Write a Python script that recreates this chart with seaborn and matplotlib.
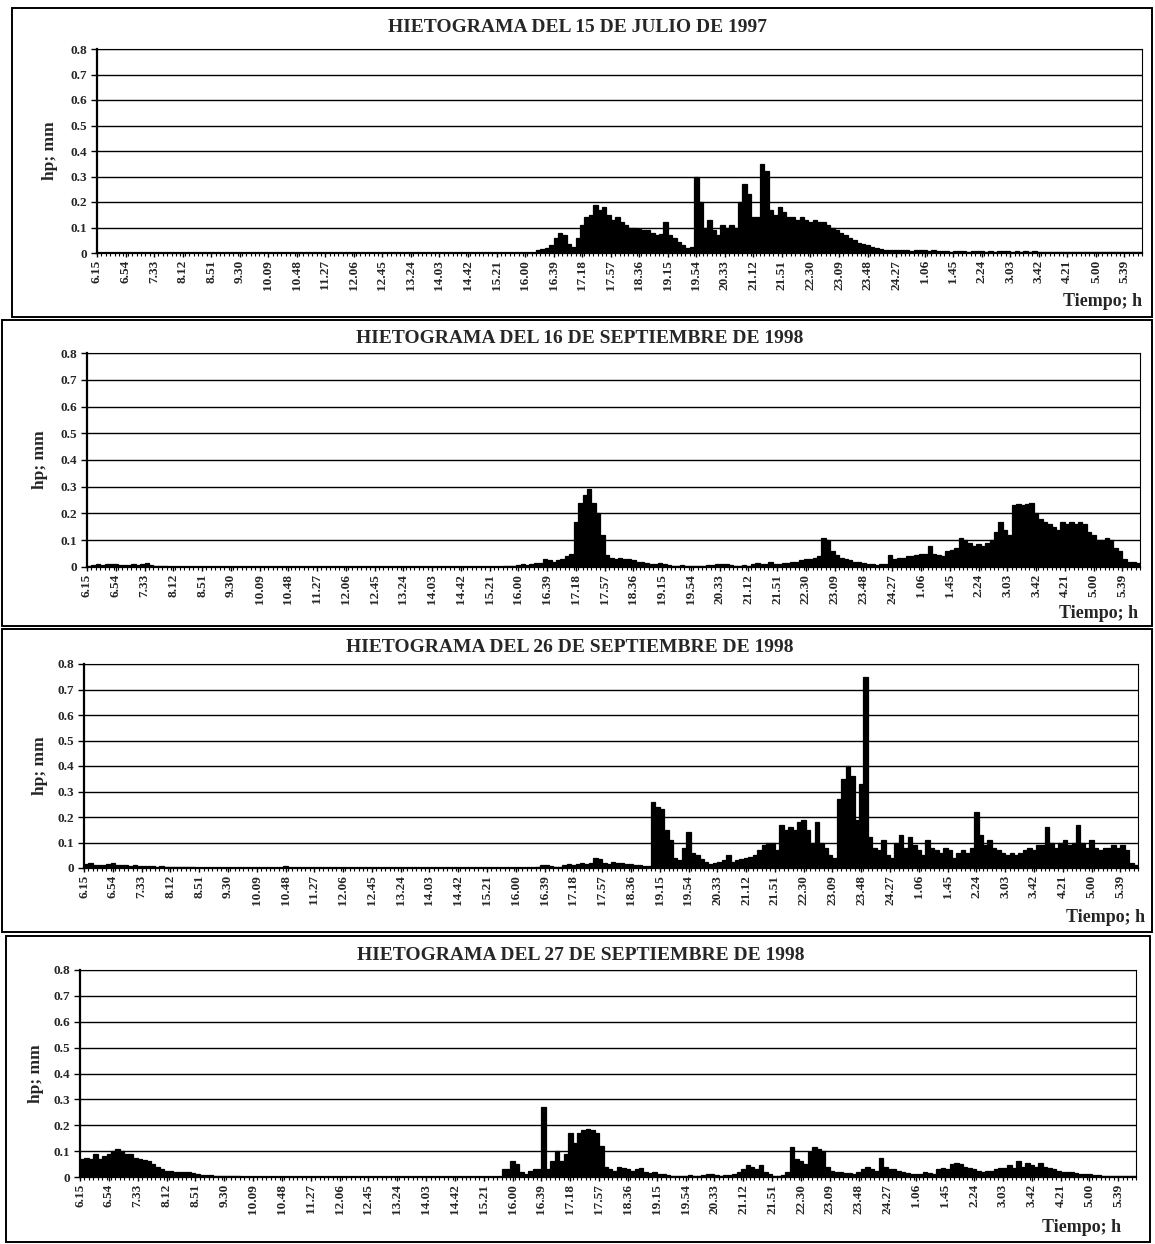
import numpy as np
import pandas as pd
import matplotlib
matplotlib.use("Agg")
import matplotlib.pyplot as plt
import seaborn as sns
from matplotlib.patches import Rectangle

# ---------------- data (hp in mm, 6-minute intervals starting 6:15) ----------------
tick_labels = ['6.15', '6.54', '7.33', '8.12', '8.51', '9.30', '10.09', '10.48', '11.27',
               '12.06', '12.45', '13.24', '14.03', '14.42', '15.21', '16.00', '16.39',
               '17.18', '17.57', '18.36', '19.15', '19.54', '20.33', '21.12', '21.51',
               '22.30', '23.09', '23.48', '24.27', '1.06', '1.45', '2.24', '3.03', '3.42',
               '4.21', '5.00', '5.39']
y_tick_values = [0, 0.1, 0.2, 0.3, 0.4, 0.5, 0.6, 0.7, 0.8]
y_tick_labels = ['0', '0.1', '0.2', '0.3', '0.4', '0.5', '0.6', '0.7', '0.8']

titles = ['HIETOGRAMA DEL 15 DE JULIO DE 1997',
          'HIETOGRAMA DEL 16 DE SEPTIEMBRE DE 1998',
          'HIETOGRAMA DEL 26 DE SEPTIEMBRE DE 1998',
          'HIETOGRAMA DEL 27 DE SEPTIEMBRE DE 1998']

hp_15jul1997 = [
    0, 0, 0, 0, 0, 0, 0, 0, 0, 0, 0, 0, 0, 0, 0, 0, 0, 0, 0, 0,
    0, 0, 0, 0, 0, 0, 0, 0, 0, 0, 0, 0, 0, 0, 0, 0, 0, 0, 0, 0,
    0, 0, 0, 0, 0, 0, 0, 0, 0, 0, 0, 0, 0, 0, 0, 0, 0, 0, 0, 0,
    0, 0, 0, 0, 0, 0, 0, 0, 0, 0, 0, 0, 0, 0, 0, 0, 0, 0, 0, 0,
    0, 0, 0, 0, 0, 0, 0, 0, 0, 0, 0, 0, 0, 0, 0, 0, 0, 0, 0, 0,
    .01, .015, .02, .03, .06, .08, .07, .035, .025, .06,
    .11, .14, .15, .19, .17, .18, .15, .13, .14, .12,
    .11, .10, .10, .095, .09, .09, .08, .07, .075, .12,
    .07, .06, .045, .03, .02, .025, .30, .20, .10, .13,
    .09, .07, .11, .10, .11, .10, .20, .27, .23, .14,
    .14, .35, .32, .17, .15, .18, .16, .14, .14, .13,
    .14, .13, .12, .13, .12, .12, .11, .10, .09, .08,
    .07, .06, .05, .04, .035, .03, .025, .02, .015,
    .012, .01, .01, .012, .01, .01, .008, .01, .012, .01, .008, .01,
    .008, .006, .008, .005, .006, .008, .006, .005, .006, .008, .006, .005, .006,
    .005, .006, .008, .006, .005, .006, .005, .006, .005, .006, .005, .004,
    .004, .003, .004, .003, .003, .004, .003, .003, .003, .002, .003,
    .003, .002, .003, .002, .002, .002, .002, .002, .002, .002, .002,
]

hp_16sep1998 = [
    .005, .008, .01, .008, .01, .012, .01, .008, .006, .008, .01, .008, .012, .015, .008,
    .005, .005, .003,
    0, 0, 0, 0, 0, 0, 0, 0, 0, 0, 0, 0, 0, 0, 0, 0, 0, 0, 0, 0,
    0, 0, 0, 0, 0, 0, 0, 0, 0, 0, 0, 0, 0, 0, 0, 0, 0, 0, 0, 0,
    0, 0, 0, 0, 0, 0, 0, 0, 0, 0, 0, 0, 0, 0, 0, 0, 0, 0, 0, 0,
    0, 0, 0, 0, 0, 0, 0, 0, 0, 0, 0, 0, 0, 0, 0, 0,
    .003, .003, .005, .008, .01, .008, .012, .015, .015, .03,
    .025, .02, .025, .03, .04, .05, .17, .24, .27, .29,
    .24, .20, .12, .045, .035, .03, .035, .03, .03, .025,
    .02, .02, .015, .012, .01, .015, .012, .008,
    .005, .005, .006, .004, .005, .005, .004, .005, .006, .008,
    .01, .012, .01, .008, .005, .005, .006, .005, .012, .015,
    .01, .012, .02, .01, .012, .015, .015, .02, .02, .025,
    .03, .03, .035, .04,
    .11, .10, .06, .045, .035, .03, .025, .02, .02, .015,
    .012, .01, .008, .01, .012, .045, .03, .035, .035, .04,
    .04, .045, .05, .05, .08, .05, .045, .04, .06, .065,
    .07, .11, .10, .09, .08, .085, .08, .09, .10, .13,
    .17, .14, .12, .23, .235, .23, .235, .24, .20, .18,
    .17, .16, .15, .14, .17, .16, .17, .16, .17, .16,
    .13, .12, .10, .10, .11, .10, .07, .06, .03, .02,
    .02, .015,
]

hp_26sep1998 = [
    .015, .02, .01, .012, .01, .015, .02, .012, .01, .01, .008, .01, .008, .008, .006,
    .008, .005, .006, .005, .005, .004, .003, .003, .003, .003,
    0, 0, 0, 0, 0, 0, 0, 0, 0, 0, 0, 0, 0, 0, 0, 0, 0, 0, 0, 0,
    .006,
    0, 0, 0, 0, 0, 0, 0, 0, 0, 0, 0, 0, 0, 0, 0, 0, 0, 0, 0, 0,
    0, 0, 0, 0, 0, 0, 0, 0, 0, 0, 0, 0, 0, 0, 0, 0, 0, 0, 0, 0,
    0, 0, 0, 0, 0, 0, 0, 0, 0, 0, 0, 0, 0, 0, 0, 0,
    .005, .01, .012, .006, .004, .005, .01, .015, .012,
    .015, .02, .015, .02, .04, .035, .02, .015, .025, .02, .02, .015, .015, .01, .01,
    .008, .006,
    .26, .24, .23, .15, .11, .04, .03, .08, .14, .06,
    .05, .035, .025, .015, .02, .025, .03, .05, .025, .03,
    .035, .04, .045, .05, .07, .09, .10, .10, .07, .17,
    .15, .16, .15, .18, .19, .15, .10, .18, .10, .08,
    .05, .04,
    .27, .35, .40, .36, .19, .33, .75, .12,
    .08, .07, .11, .05, .04, .10, .13, .08, .12, .09,
    .07, .05, .11, .08, .07, .06, .08, .07, .04, .06,
    .07, .06, .08, .22, .13, .09, .11, .08, .07, .06,
    .05, .06, .05, .06, .07, .08, .07, .09, .09, .16,
    .10, .08, .10, .11, .09, .10, .17, .10, .08, .11,
    .08, .07, .08, .08, .09, .08, .09, .07, .02, .01,
]

hp_27sep1998 = [
    .07, .075, .07, .09, .07, .08, .09, .10, .11, .10,
    .09, .09, .075, .07, .065, .06, .05, .04, .03, .025,
    .022, .02, .02, .02, .018, .015, .01, .008, .008, .006,
    .005, .004, .003, .003, .002, .002,
    0, 0, 0, 0, 0, 0, 0, 0, 0, 0, 0, 0, 0, 0, 0, 0, 0, 0, 0, 0,
    0, 0, 0, 0, 0, 0, 0, 0, 0, 0, 0, 0, 0, 0, 0, 0, 0, 0, 0, 0,
    0, 0, 0, 0, 0, 0, 0, 0, 0, 0, 0, 0, 0, 0, 0, 0, 0, 0, 0,
    .03, .03, .06, .05, .02, .01, .025, .03, .03, .27,
    .03, .06, .10, .06, .09, .17,
    .13, .17, .18, .185, .18, .17, .12, .04, .03, .025,
    .04, .035, .03, .025, .03, .035, .02, .015, .02, .012,
    .01, .008,
    .005, .005, .004, .005, .006, .005, .005, .006,
    .01, .01, .006, .005, .008, .006, .01, .02, .03, .045,
    .04, .03, .045, .02, .01, .005, .005, .006, .02, .115,
    .07, .06, .05, .095, .115, .11, .10, .04, .025, .02,
    .02, .015, .015, .01, .02, .03, .04, .03, .025, .075,
    .04, .03, .03, .025, .02, .015, .012, .01, .01, .02,
    .015, .01, .03, .035, .03, .05, .055, .05, .04, .035,
    .03, .025, .02, .025, .025, .03, .035, .035, .045, .035,
    .06, .04, .055, .045, .04, .055, .04, .035, .03, .025,
    .02, .02, .018, .015, .012, .01, .012, .008, .008, .005,
    .003, .003, .003, .003, .003, .003, .003,
]

series = [hp_15jul1997, hp_16sep1998, hp_26sep1998, hp_27sep1998]

# ---------------- layout (pixels) ----------------
W, H = 1155, 1244
layout = [
    dict(ax=(97, 1142, 49, 253), frame=(12, 8, 1152, 317), title_xy=(578, 28), ylab_x=50, tiempo=(1142, 302)),
    dict(ax=(87, 1140, 353, 567), frame=(2, 320, 1152, 626), title_xy=(580, 338), ylab_x=40, tiempo=(1138, 613)),
    dict(ax=(84, 1138, 664, 868), frame=(2, 629, 1152, 932), title_xy=(570, 648), ylab_x=40, tiempo=(1145, 918)),
    dict(ax=(80, 1136, 970, 1177), frame=(6, 936, 1150, 1242), title_xy=(581, 955), ylab_x=36, tiempo=(1121, 1228)),
]

sns.set_style("white")
plt.rcParams['font.family'] = ['Liberation Serif', 'DejaVu Serif']
plt.rcParams['font.weight'] = 'bold'

fig = plt.figure(figsize=(W / 100, H / 100), dpi=100)
fig.patch.set_facecolor('white')

step = 6
tick_pos = [39 * k for k in range(len(tick_labels))]

for vals, title, lay in zip(series, titles, layout):
    l, r, t, b = lay['ax']
    ax = fig.add_axes([l / W, 1 - b / H, (r - l) / W, (b - t) / H])
    n = len(vals)
    df = pd.DataFrame({'t': np.arange(n) * step + step / 2, 'hp': vals})
    sns.barplot(data=df, x='t', y='hp', native_scale=True, width=1.0, color='black',
                saturation=1, errorbar=None, edgecolor='black', linewidth=0.9, ax=ax)
    ax.set_xlim(0, 238 * step)
    ax.set_ylim(0, 0.8)
    ax.set_xlabel('')
    ax.set_ylabel('')
    ax.set_xticks(tick_pos)
    ax.set_xticklabels(tick_labels, rotation=90, fontsize=9.5, fontweight='bold')
    ax.set_xticks(np.arange(0, 238 * step + 1, step), minor=True)
    ax.set_yticks(y_tick_values)
    ax.set_yticklabels(y_tick_labels, fontsize=9.5, fontweight='bold')
    ax.tick_params(axis='x', which='major', length=3, width=1.0, pad=2, color='black', bottom=True)
    ax.tick_params(axis='x', which='minor', length=2, width=0.8, color='black', bottom=True)
    ax.tick_params(axis='y', which='major', length=4, width=1.0, pad=3, color='black', left=True)
    ax.grid(axis='y', color='black', linewidth=1.0)
    ax.grid(axis='x', visible=False)
    ax.set_axisbelow(True)
    for side in ['left', 'bottom']:
        ax.spines[side].set_linewidth(1.6)
        ax.spines[side].set_color('black')
    for side in ['top', 'right']:
        ax.spines[side].set_linewidth(0.8)
        ax.spines[side].set_color('black')
        ax.spines[side].set_visible(True)

    x0, y0, x1, y1 = lay['frame']
    fig.add_artist(Rectangle((x0 / W, 1 - y1 / H), (x1 - x0) / W, (y1 - y0) / H,
                             transform=fig.transFigure, fill=False, lw=1.4, ec='black'))
    tx, ty = lay['title_xy']
    fig.text(tx / W, 1 - ty / H, title, ha='center', va='center', fontsize=14, fontweight='bold')
    fig.text(lay['ylab_x'] / W, 1 - ((t + b) / 2) / H, 'hp; mm', rotation=90, ha='center',
             va='center', fontsize=12.5, fontweight='bold')
    mx, my = lay['tiempo']
    fig.text(mx / W, 1 - my / H, 'Tiempo; h', ha='right', va='center', fontsize=13, fontweight='bold')

fig.savefig('out.png', dpi=100, facecolor='white')
